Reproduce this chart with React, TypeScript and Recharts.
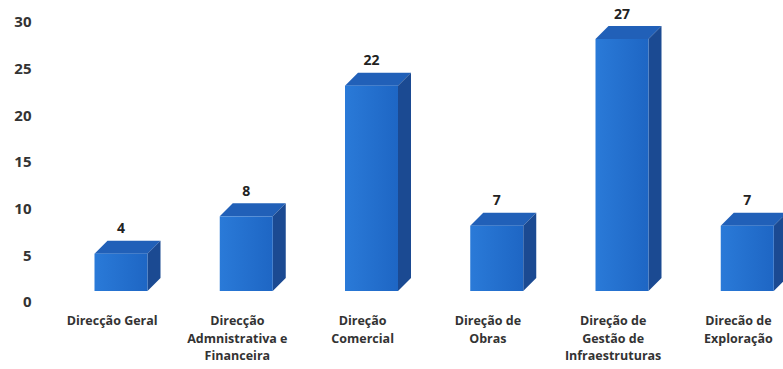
import React from "react";
import { BarChart, Bar, XAxis, YAxis, LabelList } from "recharts";

const categories = [
  "Direcção Geral",
  "Direcção\nAdmnistrativa e\nFinanceira",
  "Direção\nComercial",
  "Direção de\nObras",
  "Direção de\nGestão de\nInfraestruturas",
  "Direcão de\nExploração",
];
const values = [4, 8, 22, 7, 27, 7];
const yTicks = [0, 5, 10, 15, 20, 25, 30];

const data = categories.map((name, i) => ({ name, value: values[i] }));

const FONT = "'Open Sans', sans-serif";

// 3d offsets
const LIFT = 11;
const DX = 13;
const DY = 13;

function Bar3D(props: any) {
  const { x, y, width, height } = props;
  const top = y - LIFT;
  const bottom = y + height - LIFT;
  return (
    <g>
      <polygon
        points={`${x},${top} ${x + DX},${top - DY} ${x + width + DX},${top - DY} ${x + width},${top}`}
        fill="#2160b8"
      />
      <polygon
        points={`${x + width},${top} ${x + width + DX},${top - DY} ${x + width + DX},${bottom - DY} ${x + width},${bottom}`}
        fill="#1b4a92"
      />
      <rect x={x} y={top} width={width} height={bottom - top} fill="url(#frontGrad)" />
    </g>
  );
}

function ValueLabel(props: any) {
  const { x, y, width, value } = props;
  return (
    <text
      x={x + width / 2}
      y={y - LIFT - DY - 13}
      textAnchor="middle"
      dominantBaseline="central"
      fontFamily={FONT}
      fontWeight={700}
      fontSize={14}
      fill="#222"
    >
      {value}
    </text>
  );
}

function CategoryTick(props: any) {
  const { x, payload } = props;
  const lines = String(payload.value).split("\n");
  return (
    <g>
      {lines.map((line: string, i: number) => (
        <text
          key={i}
          x={x - 9}
          y={325 + i * 17.5}
          textAnchor="middle"
          fontFamily={FONT}
          fontWeight={700}
          fontSize={12.5}
          fill="#333"
        >
          {line}
        </text>
      ))}
    </g>
  );
}

export default function App() {
  return (
    <div
      style={{
        position: "fixed",
        top: 0,
        left: 0,
        width: 783,
        height: 369,
        overflow: "hidden",
        background: "#fff",
      }}
    >
      <BarChart
        width={810}
        height={369}
        data={data}
        margin={{ top: 22, right: 0, bottom: 0, left: 0 }}
        style={{ display: "block" }}
      >
        <defs>
          <linearGradient id="frontGrad" x1="0" y1="0" x2="1" y2="0">
            <stop offset="0%" stopColor="#2a7ad8" />
            <stop offset="100%" stopColor="#1e66c4" />
          </linearGradient>
        </defs>
        <XAxis
          dataKey="name"
          axisLine={false}
          tickLine={false}
          interval={0}
          height={67}
          tick={<CategoryTick />}
        />
        <YAxis
          domain={[0, 30]}
          ticks={yTicks}
          width={58.5}
          axisLine={false}
          tickLine={false}
          tickMargin={21}
          tick={{ fontFamily: FONT, fontWeight: 700, fontSize: 15, fill: "#333" }}
        />
        <Bar dataKey="value" barSize={53} shape={<Bar3D />} isAnimationActive={false}>
          <LabelList dataKey="value" content={<ValueLabel />} />
        </Bar>
      </BarChart>
    </div>
  );
}
